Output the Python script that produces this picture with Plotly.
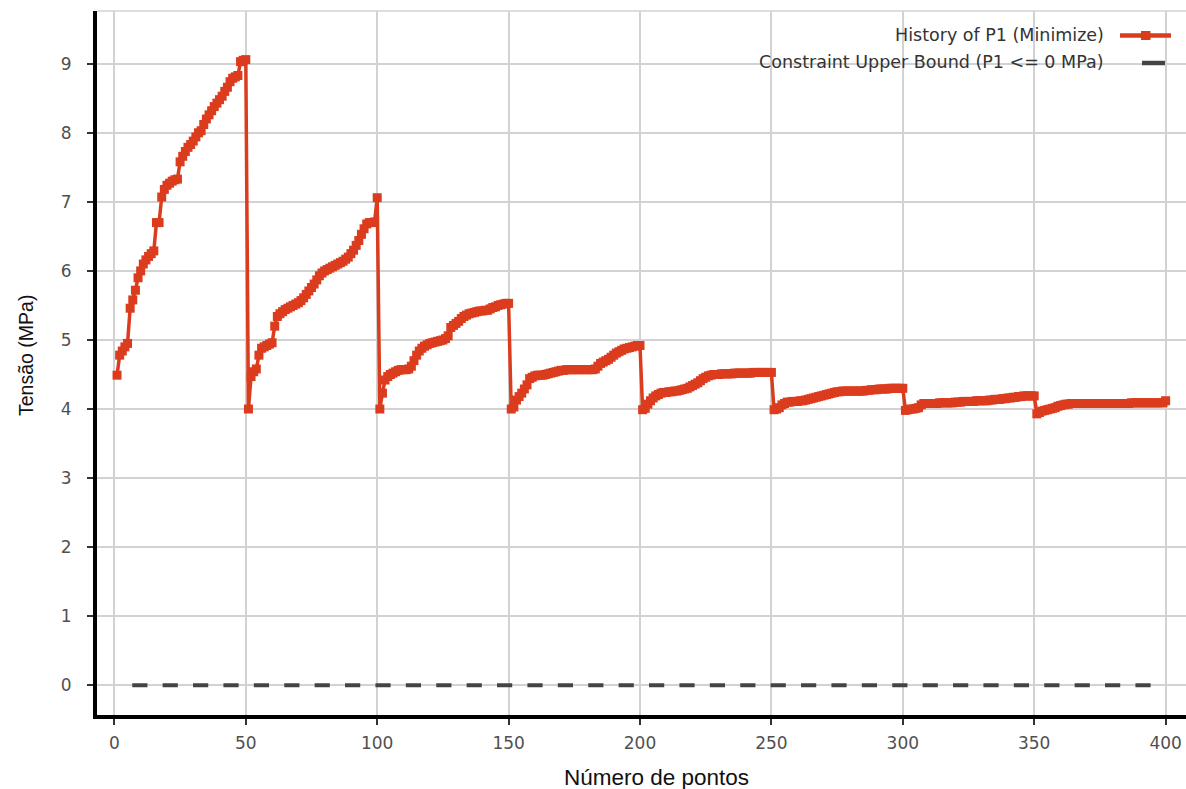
import plotly.graph_objects as go

# P1 stress history (MPa), one list per 50-point optimisation cycle
cycle_1 = [4.49, 4.78, 4.84, 4.90, 4.95, 5.46, 5.58, 5.72, 5.90, 6.00,
           6.10, 6.16, 6.21, 6.25, 6.29, 6.70, 6.70, 7.07, 7.18, 7.24,
           7.27, 7.30, 7.32, 7.33, 7.58, 7.66, 7.73, 7.79, 7.83, 7.88,
           7.94, 8.00, 8.03, 8.12, 8.20, 8.26, 8.32, 8.38, 8.43, 8.48,
           8.53, 8.60, 8.66, 8.74, 8.79, 8.81, 8.83, 9.03, 9.05, 9.06]
cycle_2 = [4.00, 4.47, 4.54, 4.58, 4.78, 4.88, 4.90, 4.92, 4.94, 4.96,
           5.20, 5.34, 5.38, 5.41, 5.44, 5.46, 5.48, 5.50, 5.52, 5.54,
           5.57, 5.61, 5.66, 5.71, 5.76, 5.81, 5.87, 5.93, 5.97, 6.00,
           6.02, 6.04, 6.06, 6.08, 6.10, 6.12, 6.14, 6.17, 6.20, 6.25,
           6.30, 6.37, 6.44, 6.53, 6.61, 6.68, 6.70, 6.70, 6.71, 7.06]
cycle_3 = [4.00, 4.23, 4.42, 4.47, 4.50, 4.52, 4.54, 4.56, 4.57, 4.57,
           4.57, 4.58, 4.62, 4.70, 4.78, 4.84, 4.88, 4.91, 4.93, 4.95,
           4.96, 4.97, 4.98, 4.99, 5.00, 5.02, 5.06, 5.18, 5.21, 5.24,
           5.27, 5.31, 5.34, 5.36, 5.38, 5.39, 5.40, 5.41, 5.42, 5.42,
           5.43, 5.43, 5.45, 5.47, 5.48, 5.50, 5.51, 5.52, 5.53, 5.53]
cycle_4 = [4.00, 4.03, 4.13, 4.18, 4.23, 4.29, 4.35, 4.44, 4.46, 4.48,
           4.49, 4.49, 4.49, 4.50, 4.51, 4.52, 4.53, 4.54, 4.55, 4.56,
           4.56, 4.57, 4.57, 4.57, 4.57, 4.57, 4.57, 4.57, 4.57, 4.57,
           4.57, 4.57, 4.58, 4.62, 4.66, 4.68, 4.70, 4.72, 4.75, 4.78,
           4.81, 4.83, 4.85, 4.87, 4.88, 4.89, 4.90, 4.91, 4.92, 4.92]
cycle_5 = [3.99, 4.01, 4.07, 4.12, 4.16, 4.19, 4.21, 4.23, 4.24, 4.24,
           4.25, 4.25, 4.26, 4.26, 4.27, 4.28, 4.29, 4.30, 4.32, 4.34,
           4.36, 4.38, 4.41, 4.44, 4.46, 4.48, 4.49, 4.50, 4.50, 4.50,
           4.51, 4.51, 4.51, 4.51, 4.51, 4.52, 4.52, 4.52, 4.52, 4.52,
           4.52, 4.52, 4.53, 4.53, 4.53, 4.53, 4.53, 4.53, 4.53, 4.53]
cycle_6 = [3.99, 4.00, 4.02, 4.06, 4.08, 4.10, 4.10, 4.11, 4.11, 4.11,
           4.12, 4.12, 4.13, 4.14, 4.15, 4.16, 4.17, 4.18, 4.19, 4.20,
           4.21, 4.22, 4.23, 4.24, 4.25, 4.25, 4.26, 4.26, 4.26, 4.26,
           4.26, 4.26, 4.26, 4.26, 4.26, 4.27, 4.27, 4.28, 4.28, 4.28,
           4.29, 4.29, 4.29, 4.29, 4.30, 4.30, 4.30, 4.30, 4.30, 4.30]
cycle_7 = [3.98, 3.99, 4.00, 4.00, 4.01, 4.02, 4.06, 4.08, 4.08, 4.08,
           4.08, 4.08, 4.08, 4.09, 4.09, 4.09, 4.09, 4.09, 4.09, 4.10,
           4.10, 4.10, 4.11, 4.11, 4.11, 4.11, 4.11, 4.12, 4.12, 4.12,
           4.12, 4.12, 4.13, 4.13, 4.14, 4.14, 4.14, 4.15, 4.15, 4.16,
           4.16, 4.17, 4.17, 4.18, 4.18, 4.19, 4.19, 4.19, 4.19, 4.19]
cycle_8 = [3.93, 3.95, 3.97, 3.98, 3.99, 4.00, 4.01, 4.02, 4.04, 4.05,
           4.06, 4.07, 4.07, 4.08, 4.08, 4.08, 4.08, 4.08, 4.08, 4.08,
           4.08, 4.08, 4.08, 4.08, 4.08, 4.08, 4.08, 4.08, 4.08, 4.08,
           4.08, 4.08, 4.08, 4.08, 4.08, 4.08, 4.09, 4.09, 4.09, 4.09,
           4.09, 4.09, 4.09, 4.09, 4.09, 4.09, 4.09, 4.09, 4.09, 4.12]

p1_history = (cycle_1 + cycle_2 + cycle_3 + cycle_4 +
              cycle_5 + cycle_6 + cycle_7 + cycle_8)
points = list(range(1, len(p1_history) + 1))
upper_bound = [0.0] * len(points)

x_ticks = [0, 50, 100, 150, 200, 250, 300, 350, 400]
y_ticks = [0, 1, 2, 3, 4, 5, 6, 7, 8, 9]

series_names = ["History of P1 (Minimize)", "Constraint Upper Bound (P1 <= 0 MPa)"]
x_title = "Número de pontos"
y_title = "Tensão (MPa)"

RED = "#dc3c1e"
DARK = "#444444"
GRID = "#d2d2d2"

W, H = 1186, 789
ML, MR, MT, MB = 97, 0, 11, 74


def px_x(p):
    return (p - ML) / (W - ML - MR)


def px_y(p):
    return (H - MB - p) / (H - MT - MB)


fig = go.Figure()
fig.add_trace(go.Scatter(
    x=points, y=upper_bound, mode="lines", name=series_names[1],
    line=dict(color=DARK, width=4, dash="0px,15.2px,15.2px,0px"),
    showlegend=False,
))
fig.add_trace(go.Scatter(
    x=points, y=p1_history, mode="lines+markers", name=series_names[0],
    line=dict(color=RED, width=3.5),
    marker=dict(symbol="square", size=9, color=RED, line=dict(width=0)),
    showlegend=False,
))

# legend drawn with the sample on the right of each label
shapes = [
    dict(type="line", xref="paper", yref="paper",
         x0=0, x1=1, y0=1, y1=1, line=dict(color=GRID, width=1.5)),
    dict(type="line", xref="paper", yref="paper",
         x0=px_x(1120), x1=px_x(1171), y0=px_y(35.5), y1=px_y(35.5),
         line=dict(color=RED, width=4.5)),
    dict(type="rect", xref="paper", yref="paper",
         x0=px_x(1141), x1=px_x(1150.5), y0=px_y(31), y1=px_y(40),
         fillcolor=RED, line=dict(width=0)),
    dict(type="line", xref="paper", yref="paper",
         x0=px_x(1142), x1=px_x(1165), y0=px_y(63), y1=px_y(63),
         line=dict(color=DARK, width=4.5)),
]

legend_font = dict(family="DejaVu Sans", size=17.5, color="#333")
annotations = [
    dict(text=series_names[0], xref="paper", yref="paper",
         x=px_x(1106), y=px_y(35.5), xanchor="right", yanchor="middle",
         showarrow=False, font=legend_font),
    dict(text=series_names[1], xref="paper", yref="paper",
         x=px_x(1106), y=px_y(62.5), xanchor="right", yanchor="middle",
         showarrow=False, font=legend_font),
    dict(text=x_title, xref="paper", yref="paper",
         x=px_x(656), y=px_y(777), xanchor="center", yanchor="middle",
         showarrow=False, font=dict(family="Liberation Sans", size=22.5, color="#111")),
    dict(text=y_title, xref="paper", yref="paper",
         x=px_x(26), y=px_y(356), xanchor="center", yanchor="middle",
         textangle=-90, showarrow=False,
         font=dict(family="Liberation Sans", size=19.5, color="#111")),
]

fig.update_layout(
    width=W, height=H, autosize=False,
    margin=dict(l=ML, r=MR, t=MT, b=MB, pad=0),
    paper_bgcolor="white", plot_bgcolor="white",
    font=dict(family="DejaVu Sans", size=17, color="#505050"),
    shapes=shapes, annotations=annotations,
    showlegend=False,
)
fig.update_xaxes(
    range=[-6.62, 407.76], tickvals=x_ticks,
    showgrid=True, gridcolor=GRID, gridwidth=1.5, zeroline=False,
    showline=True, linecolor="black", linewidth=4,
    ticks="outside", ticklen=6, tickwidth=2, tickcolor="#333",
    ticklabelstandoff=4,
)
fig.update_yaxes(
    range=[-0.431, 9.764], tickvals=y_ticks,
    showgrid=True, gridcolor=GRID, gridwidth=1.5, zeroline=False,
    showline=True, linecolor="black", linewidth=4,
    ticks="outside", ticklen=6, tickwidth=2, tickcolor="#333",
    ticklabelstandoff=12,
)

fig.write_html("out.html", config={"displayModeBar": False})
